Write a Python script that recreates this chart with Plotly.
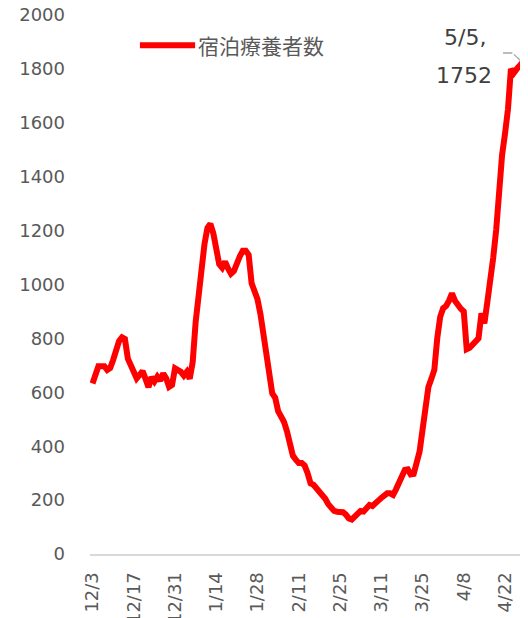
import pandas as pd
import plotly.graph_objects as go

# 宿泊療養者数 (daily, 2020-12-03 .. 2021-04-30) + labelled point 5/5
dates = pd.date_range("2020-12-03", "2021-04-30")
counts = [
    633, 670, 697, 697, 697, 683, 690, 720, 765, 790,
    804, 798, 725, 700, 672, 652, 665, 679, 650, 619,
    656, 640, 658, 643, 670, 652, 620, 627, 689, 684,
    676, 662, 676, 650, 712, 860, 970, 1065, 1150, 1210,
    1225, 1190, 1120, 1075, 1062, 1085, 1060, 1040, 1050, 1085,
    1105, 1125, 1125, 1110, 1004, 975, 945, 890, 810, 750,
    660, 596, 580, 530, 510, 490, 455, 400, 365, 350,
    338, 338, 328, 300, 262, 257, 245, 237, 222, 205,
    185, 168, 160, 157, 157, 155, 146, 132, 128, 140,
    150, 160, 158, 170, 182, 178, 185, 198, 208, 215,
    225, 225, 219, 240, 265, 300, 312, 314, 295, 297,
    340, 380, 460, 530, 620, 650, 683, 800, 880, 912,
    920, 940, 967, 940, 920, 910, 900, 760, 765, 776,
    790, 800, 893, 856, 935, 1010, 1100, 1202, 1350, 1480,
    1560, 1650, 1800, 1785, 1800, 1812, 1825, 1850, 1850,
]
last_date = pd.Timestamp("2021-05-05")
last_count = 1752

tick_labels = ["12/3", "12/17", "12/31", "1/14", "1/28", "2/11",
               "2/25", "3/11", "3/25", "4/8", "4/22"]
y_ticks = list(range(0, 2001, 200))

x_all = list(dates) + [last_date]
y_all = counts + [last_count]


def day(n):
    return dates[0] + pd.Timedelta(days=n)


TICK_FONT = dict(family="DejaVu Sans, Verdana, sans-serif", size=18, color="#595959")

fig = go.Figure(go.Scatter(
    x=x_all, y=y_all,
    mode="lines",
    line=dict(color="#ff0000", width=6),
    name="宿泊療養者数",
    showlegend=False,
))

# leader line + data label for 5/5
leader_y = 1859
fig.add_annotation(x=day(142.5), y=leader_y, ax=day(138.8), ay=leader_y,
                   xref="x", yref="y", axref="x", ayref="y", text="",
                   showarrow=True, arrowhead=0, arrowwidth=1.3, arrowcolor="#a6a6a6")
fig.add_annotation(x=last_date, y=last_count, ax=day(142.5), ay=leader_y,
                   xref="x", yref="y", axref="x", ayref="y", text="",
                   showarrow=True, arrowhead=0, arrowwidth=1.3, arrowcolor="#a6a6a6")
label_font = dict(family="DejaVu Sans, Verdana, sans-serif", size=22, color="#404040")
fig.add_annotation(x=day(126.3), y=1915, text=f"{last_date.month}/{last_date.day},",
                   showarrow=False, font=label_font)
fig.add_annotation(x=day(126.1), y=1774, text=f"{last_count}",
                   showarrow=False, font=label_font)

# legend drawn by hand (longer line sample than plotly's)
fig.add_shape(type="line", xref="paper", yref="paper",
              x0=0.114, x1=0.240, y0=0.944, y1=0.944,
              line=dict(color="#ff0000", width=6))
fig.add_annotation(xref="paper", yref="paper", x=0.242, y=0.944,
                   xanchor="left", yanchor="middle", showarrow=False,
                   text="宿泊療養者数",
                   font=dict(family="Noto Sans CJK JP", size=21, color="#595959"))

# page body has an 8px margin, so the figure is 8px smaller than the window
fig.update_layout(
    width=520, height=610,
    margin=dict(l=82, r=0, t=7, b=64, autoexpand=False),
    paper_bgcolor="white",
    plot_bgcolor="white",
    showlegend=False,
    xaxis=dict(
        range=[day(-0.85), day(147.8)],
        tickvals=list(dates[::14][:len(tick_labels)]),
        ticktext=tick_labels,
        tickangle=-90,
        tickfont=TICK_FONT,
        showgrid=False, zeroline=False,
        showline=True, linecolor="#d9d9d9", linewidth=2,
        ticks="", ticklabelstandoff=9,
        automargin=False, ticklabeloverflow="allow",
    ),
    yaxis=dict(
        range=[0, 2000],
        tickvals=y_ticks,
        tickfont=TICK_FONT,
        showgrid=False, zeroline=False, showline=False,
        ticks="", ticklabelstandoff=24,
        automargin=False, ticklabeloverflow="allow",
    ),
)

fig.write_html("out.html")
